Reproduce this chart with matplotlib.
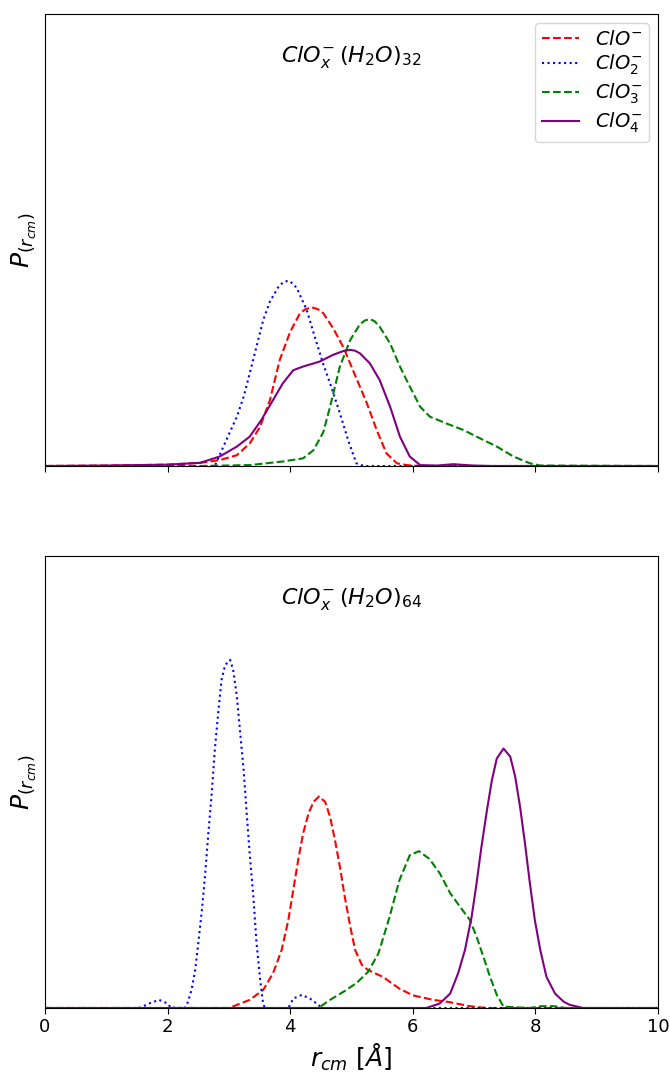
import matplotlib
matplotlib.use("Agg")
import matplotlib.pyplot as plt

# ---------------- data: (H2O)32 panel ----------------
x32_clo = [0, 1.0, 2.0, 2.53, 2.85, 3.13, 3.34, 3.51, 3.67, 3.83, 4.0, 4.16, 4.25, 4.35, 4.45, 4.54, 4.70, 4.87, 5.03, 5.25, 5.41, 5.57, 5.74, 5.90, 6.1, 10]
y32_clo = [0, 0.001, 0.003, 0.007, 0.013, 0.024, 0.05, 0.087, 0.146, 0.235, 0.297, 0.338, 0.347, 0.351, 0.347, 0.338, 0.305, 0.262, 0.21, 0.139, 0.08, 0.028, 0.006, 0.002, 0, 0]

x32_clo2 = [0, 2.0, 2.77, 2.96, 3.13, 3.24, 3.34, 3.45, 3.56, 3.67, 3.81, 3.89, 3.97, 4.04, 4.11, 4.27, 4.40, 4.54, 4.65, 4.81, 4.95, 5.08, 5.2, 10]
y32_clo2 = [0, 0, 0, 0.058, 0.109, 0.153, 0.205, 0.264, 0.323, 0.364, 0.397, 0.407, 0.41, 0.404, 0.393, 0.345, 0.286, 0.225, 0.183, 0.117, 0.055, 0.006, 0, 0]

x32_clo3 = [0, 2.53, 3.34, 3.88, 4.21, 4.38, 4.54, 4.65, 4.81, 4.98, 5.14, 5.22, 5.30, 5.38, 5.46, 5.63, 5.79, 5.95, 6.12, 6.28, 6.55, 6.82, 7.10, 7.37, 7.64, 7.91, 8.08, 10]
y32_clo3 = [0, 0, 0.002, 0.01, 0.017, 0.035, 0.075, 0.131, 0.22, 0.279, 0.314, 0.322, 0.325, 0.320, 0.308, 0.271, 0.22, 0.176, 0.131, 0.109, 0.094, 0.08, 0.061, 0.043, 0.021, 0.006, 0.001, 0]

x32_clo4 = [0, 1.0, 2.0, 2.53, 2.85, 3.13, 3.34, 3.53, 3.69, 3.88, 4.05, 4.21, 4.48, 4.70, 4.88, 4.98, 5.06, 5.14, 5.30, 5.46, 5.63, 5.79, 5.95, 6.12, 6.4, 6.66, 6.99, 7.3, 10]
y32_clo4 = [0, 0.001, 0.003, 0.007, 0.021, 0.043, 0.065, 0.102, 0.139, 0.183, 0.212, 0.22, 0.231, 0.246, 0.255, 0.257, 0.255, 0.249, 0.227, 0.19, 0.131, 0.065, 0.021, 0.002, 0.001, 0.004, 0.001, 0, 0]

# ---------------- data: (H2O)64 panel ----------------
x64_clo = [0, 3.0, 3.34, 3.56, 3.72, 3.86, 3.97, 4.05, 4.13, 4.21, 4.30, 4.38, 4.47, 4.57, 4.65, 4.73, 4.81, 4.89, 4.98, 5.06, 5.17, 5.27, 5.38, 5.51, 5.78, 6.0, 6.33, 6.60, 6.93, 7.2, 10]
y64_clo = [0, 0, 0.018, 0.040, 0.077, 0.128, 0.195, 0.261, 0.327, 0.386, 0.431, 0.456, 0.468, 0.456, 0.423, 0.372, 0.313, 0.246, 0.18, 0.128, 0.095, 0.084, 0.077, 0.069, 0.043, 0.028, 0.018, 0.013, 0.004, 0, 0]

x64_clo2 = [0, 1.5, 1.56, 1.7, 1.86, 2.0, 2.05, 2.28, 2.32, 2.39, 2.45, 2.50, 2.56, 2.61, 2.66, 2.72, 2.77, 2.83, 2.88, 2.94, 3.02, 3.07, 3.13, 3.18, 3.24, 3.29, 3.34, 3.40, 3.45, 3.51, 3.56, 3.59,
            3.97, 4.05, 4.19, 4.32, 4.46, 4.51, 10]
y64_clo2 = [0, 0, 0.001, 0.01, 0.018, 0.01, 0.001, 0, 0.009, 0.040, 0.084, 0.143, 0.217, 0.291, 0.379, 0.475, 0.571, 0.659, 0.726, 0.759, 0.770, 0.748, 0.689, 0.615, 0.527, 0.431, 0.340, 0.245, 0.145, 0.062, 0.008, 0,
            0, 0.021, 0.029, 0.021, 0.007, 0, 0]

x64_clo3 = [0, 4.46, 4.65, 4.87, 5.08, 5.27, 5.44, 5.62, 5.78, 5.95, 6.10, 6.27, 6.44, 6.61, 6.77, 6.93, 7.04, 7.15, 7.26, 7.37, 7.48, 7.9, 8.1, 8.3, 8.5, 10]
y64_clo3 = [0, 0, 0.018, 0.036, 0.055, 0.080, 0.121, 0.201, 0.282, 0.338, 0.347, 0.330, 0.298, 0.254, 0.224, 0.195, 0.158, 0.114, 0.069, 0.029, 0.003, 0, 0.004, 0.004, 0, 0]

x64_clo4 = [0, 6.22, 6.44, 6.61, 6.74, 6.85, 6.96, 7.04, 7.12, 7.21, 7.29, 7.37, 7.48, 7.59, 7.67, 7.75, 7.83, 7.91, 7.99, 8.08, 8.18, 8.32, 8.46, 8.56, 8.78, 10]
y64_clo4 = [0, 0, 0.010, 0.032, 0.077, 0.128, 0.202, 0.276, 0.357, 0.438, 0.504, 0.552, 0.574, 0.556, 0.512, 0.445, 0.364, 0.276, 0.195, 0.128, 0.069, 0.032, 0.014, 0.007, 0, 0]

labels = [r"$ClO^{-}$", r"$ClO_2^{-}$", r"$ClO_3^{-}$", r"$ClO_4^{-}$"]
colors = ["red", "blue", "green", "purple"]
styles = ["--", ":", "--", "-"]
panel_titles = [r"$ClO_x^{-}\,(H_2O)_{32}$", r"$ClO_x^{-}\,(H_2O)_{64}$"]
xticks = [0, 2, 4, 6, 8, 10]

fig = plt.figure(figsize=(6.7, 10.74), dpi=100)
W, H = 670, 1074
ax1 = fig.add_axes([45 / W, 1 - 466 / H, 613 / W, 452 / H])
ax2 = fig.add_axes([45 / W, 1 - 1008 / H, 613 / W, 452 / H], sharex=ax1)

sets = [
    [(x32_clo, y32_clo), (x32_clo2, y32_clo2), (x32_clo3, y32_clo3), (x32_clo4, y32_clo4)],
    [(x64_clo, y64_clo), (x64_clo2, y64_clo2), (x64_clo3, y64_clo3), (x64_clo4, y64_clo4)],
]

for ax, data, title in zip([ax1, ax2], sets, panel_titles):
    for (xs, ys), lab, c, ls in zip(data, labels, colors, styles):
        ax.plot(xs, ys, ls, color=c, lw=1.5, label=lab)
    ax.set_xlim(0, 10)
    ax.set_ylim(0, 1)
    ax.set_yticks([])
    ax.set_xticks(xticks)
    ax.tick_params(axis="x", labelsize=13, length=4)
    ax.set_ylabel(r"$P_{(r_{cm})}$", fontsize=18, labelpad=4)
    ax.text(0.5, 0.905, title, transform=ax.transAxes, ha="center", va="center", fontsize=16)

ax1.tick_params(axis="x", labelbottom=False)
ax1.legend(loc="upper right", fontsize=14, handlelength=1.9, labelspacing=0.22,
           borderaxespad=0.45, borderpad=0.35)
ax2.set_xlabel(r"$r_{cm}\ [\AA]$", fontsize=18)

fig.savefig("out.png", dpi=100)
